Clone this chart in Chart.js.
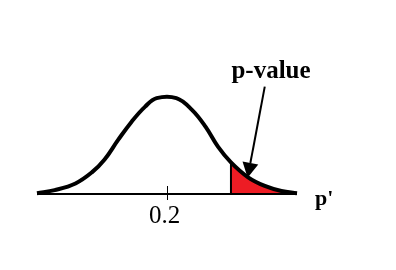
<!DOCTYPE html>
<html>
<head>
<meta charset="utf-8">
<script src="https://cdn.jsdelivr.net/npm/chart.js@4"></script>
<style>
  html, body { margin: 0; padding: 0; background: #fff; }
  canvas { display: block; }
</style>
</head>
<body>
<canvas id="chart" width="396" height="270"></canvas>
<script>
// curve (x in p', height relative to the peak)
const curveX = [0.075, 0.092, 0.112, 0.128, 0.140, 0.153, 0.166, 0.179, 0.190, 0.209, 0.224, 0.237, 0.249, 0.2615, 0.278, 0.294, 0.310, 0.325];
const curveY = [0.008, 0.040, 0.110, 0.228, 0.360, 0.564, 0.755, 0.912, 1.0, 1.0, 0.878, 0.703, 0.494, 0.33, 0.174, 0.084, 0.031, 0.007];
const cutoff = 0.2615;
const centerTick = 0.2;
const tickLabels = ['0.2'];
const axisTitle = "p'";
const tailLabel = 'p-value';

const curvePoints = curveX.map((x, i) => ({ x: x, y: curveY[i] }));
const tailPoints = curvePoints.filter(p => p.x >= cutoff);

// axis line, tick, labels and the arrow
const overlay = {
    id: 'overlay',
    afterDatasetsDraw(chart) {
        const ctx = chart.ctx;
        const xs = chart.scales.x;
        const ys = chart.scales.y;
        const y0 = ys.getPixelForValue(0);

        ctx.save();
        // cutoff line
        const cx = xs.getPixelForValue(cutoff);
        const cy = ys.getPixelForValue(curveY[curveX.indexOf(cutoff)]);
        ctx.strokeStyle = '#000';
        ctx.lineWidth = 2;
        ctx.beginPath();
        ctx.moveTo(cx, y0);
        ctx.lineTo(cx, cy);
        ctx.stroke();

        // baseline
        ctx.beginPath();
        ctx.moveTo(xs.left, y0);
        ctx.lineTo(xs.right, y0);
        ctx.stroke();

        // tick at the center
        const tx = Math.round(xs.getPixelForValue(centerTick)) + 0.5;
        ctx.lineWidth = 1;
        ctx.beginPath();
        ctx.moveTo(tx, y0 - 8);
        ctx.lineTo(tx, y0 + 6);
        ctx.stroke();

        ctx.fillStyle = '#000';
        ctx.font = '25px "Liberation Serif", serif';
        ctx.textAlign = 'center';
        ctx.textBaseline = 'alphabetic';
        ctx.fillText(tickLabels[0], tx - 3, y0 + 29);

        ctx.font = 'bold 22px "Liberation Serif", serif';
        ctx.textAlign = 'left';
        ctx.fillText(axisTitle, xs.right + 18, y0 + 11);

        ctx.font = 'bold 25px "Liberation Serif", serif';
        ctx.textAlign = 'center';
        ctx.fillText(tailLabel, xs.getPixelForValue(0.3), ys.getPixelForValue(1.21));

        // arrow
        const ax0 = xs.getPixelForValue(0.294), ay0 = ys.getPixelForValue(1.12);
        const ax1 = xs.getPixelForValue(0.2775), ay1 = ys.getPixelForValue(0.17);
        const ang = Math.atan2(ay1 - ay0, ax1 - ax0);
        const headLen = 15, headW = 8;
        ctx.lineWidth = 2;
        ctx.beginPath();
        ctx.moveTo(ax0, ay0);
        ctx.lineTo(ax1 - Math.cos(ang) * headLen, ay1 - Math.sin(ang) * headLen);
        ctx.stroke();
        ctx.beginPath();
        ctx.moveTo(ax1, ay1);
        ctx.lineTo(ax1 - Math.cos(ang) * headLen - Math.sin(ang) * headW, ay1 - Math.sin(ang) * headLen + Math.cos(ang) * headW);
        ctx.lineTo(ax1 - Math.cos(ang) * headLen + Math.sin(ang) * headW, ay1 - Math.sin(ang) * headLen - Math.cos(ang) * headW);
        ctx.closePath();
        ctx.fill();
        ctx.restore();
    }
};

new Chart(document.getElementById('chart').getContext('2d'), {
    type: 'line',
    data: {
        datasets: [
            {
                data: tailPoints,
                borderWidth: 0,
                borderColor: 'rgba(0,0,0,0)',
                backgroundColor: '#ed1c24',
                fill: 'origin',
                pointRadius: 0,
                tension: 0.4,
                order: 2
            },
            {
                data: curvePoints,
                borderColor: '#000',
                borderWidth: 4,
                fill: false,
                pointRadius: 0,
                tension: 0.4,
                clip: false,
                order: 1
            }
        ]
    },
    options: {
        responsive: false,
        animation: false,
        layout: { padding: { left: 37, right: 99, top: 79, bottom: 76 } },
        scales: {
            x: { type: 'linear', min: 0.075, max: 0.325, display: false },
            y: { min: 0, max: 1.2, display: false }
        },
        plugins: { legend: { display: false }, tooltip: { enabled: false } }
    },
    plugins: [overlay]
});
</script>
</body>
</html>
